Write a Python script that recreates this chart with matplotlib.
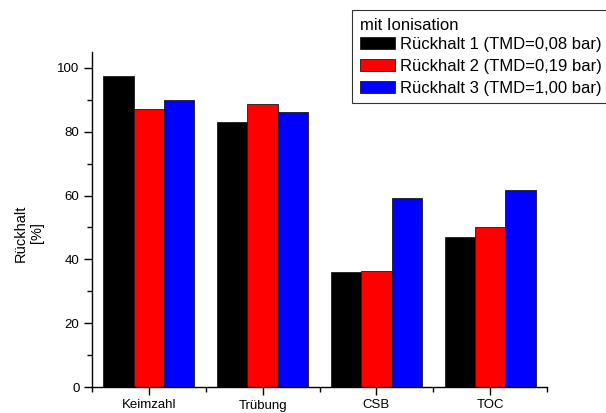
import matplotlib
matplotlib.use("Agg")

import numpy as np
import matplotlib.pyplot as plt
from matplotlib.ticker import MultipleLocator, FixedLocator

plt.rcParams["font.family"] = ["Liberation Sans", "DejaVu Sans"]

# =========================
# DATA
# =========================

categories = ["Keimzahl", "Trübung", "CSB", "TOC"]

rueckhalt_1 = [97.5, 83.1, 35.9, 46.9]
rueckhalt_2 = [87.0, 88.6, 36.4, 50.1]
rueckhalt_3 = [89.9, 86.1, 59.1, 61.8]

series_labels = [
    "Rückhalt 1 (TMD=0,08 bar)",
    "Rückhalt 2 (TMD=0,19 bar)",
    "Rückhalt 3 (TMD=1,00 bar)",
]
series_colors = ["#000000", "#ff0000", "#0000ff"]

# =========================
# FIGURE
# =========================

fig = plt.figure(figsize=(6.06, 4.13), dpi=100)
ax = fig.add_axes([92 / 606, 26 / 413, 455 / 606, 335 / 413])

x = np.arange(len(categories))
width = 0.8 / 3

for i, (vals, lab, col) in enumerate(zip([rueckhalt_1, rueckhalt_2, rueckhalt_3],
                                         series_labels, series_colors)):
    ax.bar(x + (i - 1) * width, vals, width,
           color=col, edgecolor="#1a1a1a", linewidth=0.6, label=lab)

ax.set_xlim(-0.5, len(categories) - 0.5)
ax.set_ylim(0, 105)

ax.set_xticks(x)
ax.set_xticklabels(categories)
ax.xaxis.set_minor_locator(FixedLocator(np.arange(-0.5, len(categories), 1.0)))
ax.yaxis.set_major_locator(MultipleLocator(20))
ax.yaxis.set_minor_locator(MultipleLocator(10))

for s in ["top", "right"]:
    ax.spines[s].set_visible(False)
for s in ["left", "bottom"]:
    ax.spines[s].set_linewidth(1.0)

ax.tick_params(which="major", direction="out", length=6, width=1.0,
               labelsize=9.5, pad=3)
ax.tick_params(which="minor", direction="out", length=3.5, width=1.0)

# two-line axis title, placed in figure coordinates
fig.text(29 / 606, 1 - 233 / 413, "Rückhalt\n[%]", fontsize=10.5,
         rotation=90, ha="center", va="center", multialignment="center")

# =========================
# LEGEND
# =========================

leg = ax.legend(title="mit Ionisation", fontsize=12, title_fontsize=12,
                loc="upper left", bbox_to_anchor=(352 / 606, 1 - 10 / 413),
                bbox_transform=fig.transFigure,
                frameon=True, fancybox=False, edgecolor="black",
                handlelength=2.1, handleheight=0.7, handletextpad=0.3,
                labelspacing=0.42, borderpad=0.45, borderaxespad=0)
leg._legend_box.align = "left"
leg._legend_box.sep = 3
leg.get_frame().set_linewidth(0.8)

plt.savefig("out.png", dpi=100)
plt.close()
